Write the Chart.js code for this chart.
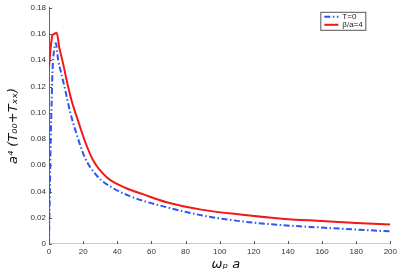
<!DOCTYPE html>
<html>
<head>
<meta charset="utf-8">
<script src="https://cdn.jsdelivr.net/npm/chart.js@4"></script>
<style>
  body { margin: 0; background: #fff; }
  #wrap { width: 400px; height: 276px; }
</style>
</head>
<body>
<div id="wrap"><canvas id="plot"></canvas></div>
<script>
'use strict';

// data
let redX = [0, 1, 2, 3, 4.5, 6, 8, 11, 13.3, 17, 21, 26, 34, 45, 55, 69, 90, 112, 135, 160, 180, 200];
let redY = [0.134, 0.150, 0.159, 0.160, 0.161, 0.150, 0.139, 0.121, 0.109, 0.094, 0.0785, 0.0634, 0.0507, 0.0427, 0.038, 0.0318, 0.026, 0.0225, 0.0195, 0.0175, 0.016, 0.0149];

let blueX = [0, 0.5, 1, 1.5, 2, 3, 4, 5.4, 7, 9.4, 12.3, 16.2, 21, 28, 37.6, 47.4, 55, 69, 90, 112, 135, 160, 180, 200];
let blueY = [0, 0.04, 0.08, 0.105, 0.13, 0.148, 0.153, 0.140, 0.131, 0.118, 0.101, 0.0836, 0.0659, 0.052, 0.0425, 0.0365, 0.0330, 0.0280, 0.0217, 0.0174, 0.0145, 0.0125, 0.011, 0.0096];

let baseX = [0, 200];
let baseY = [0, 0];

let seriesNames = ['T=0', 'β/a=4'];

function toPoints(xs, ys) {
  let pts = [];
  for (let i = 0; i < xs.length; i++) {
    pts.push({ x: xs[i], y: ys[i] });
  }
  return pts;
}

// matlab style ticks pointing inward
let inwardTicks = {
  id: 'inwardTicks',
  afterDraw(chart) {
    let c = chart.ctx;
    let xs = chart.scales.x;
    let ys = chart.scales.y;
    c.save();
    c.strokeStyle = '#555';
    c.lineWidth = 1;
    c.beginPath();
    xs.ticks.forEach(t => {
      let px = Math.round(xs.getPixelForValue(t.value)) + 0.5;
      c.moveTo(px, ys.bottom);
      c.lineTo(px, ys.bottom - 3);
    });
    ys.ticks.forEach(t => {
      let py = Math.round(ys.getPixelForValue(t.value)) + 0.5;
      c.moveTo(xs.left, py);
      c.lineTo(xs.left + 3, py);
    });
    c.stroke();
    c.restore();
  }
};

// boxed legend in the top right corner, like matlab's
let boxLegend = {
  id: 'boxLegend',
  afterDraw(chart) {
    let c = chart.ctx;
    let x0 = chart.chartArea.right - 70;
    let y0 = chart.chartArea.top + 4;
    c.save();
    c.fillStyle = '#fff';
    c.fillRect(x0, y0, 45, 18);
    c.strokeStyle = '#555';
    c.lineWidth = 1;
    c.strokeRect(x0 + 0.5, y0 + 0.5, 45, 18);
    c.font = '8px "Liberation Sans"';
    c.textBaseline = 'middle';
    for (let i = 0; i < 2; i++) {
      let ds = chart.data.datasets[i];
      let ly = y0 + 5 + i * 8;
      c.strokeStyle = ds.borderColor;
      c.lineWidth = 2;
      c.setLineDash(ds.borderDash || []);
      c.beginPath();
      c.moveTo(x0 + 4, ly);
      c.lineTo(x0 + 18, ly);
      c.stroke();
      c.setLineDash([]);
      c.fillStyle = '#222';
      c.fillText(seriesNames[i], x0 + 22, ly);
    }
    c.restore();
  }
};

let ctx = document.getElementById('plot');

new Chart(ctx, {
  type: 'line',
  data: {
    datasets: [
      {
        label: seriesNames[0],
        data: toPoints(blueX, blueY),
        borderColor: '#2f55f0',
        borderWidth: 2,
        borderDash: [6, 2.5, 1.5, 2.5],
        pointRadius: 0,
        cubicInterpolationMode: 'monotone'
      },
      {
        label: seriesNames[1],
        data: toPoints(redX, redY),
        borderColor: '#f01818',
        borderWidth: 2,
        pointRadius: 0,
        cubicInterpolationMode: 'monotone'
      },
      {
        label: 'base',
        data: toPoints(baseX, baseY),
        borderColor: '#b5dca8',
        borderWidth: 2,
        pointRadius: 0
      }
    ]
  },
  options: {
    responsive: true,
    maintainAspectRatio: false,
    animation: false,
    layout: { padding: { top: 6, right: 9, left: 2, bottom: 0 } },
    plugins: {
      legend: { display: false },
      tooltip: { enabled: false }
    },
    scales: {
      x: {
        type: 'linear',
        min: 0,
        max: 200,
        afterFit: s => { s.height = 32; },
        ticks: {
          stepSize: 20,
          font: { family: 'Liberation Sans', size: 8 },
          color: '#333',
          padding: 3
        },
        grid: { drawOnChartArea: false, drawTicks: false },
        border: { display: false },
        title: {
          display: true,
          text: '   ωₚ a',
          font: { family: 'DejaVu Sans', size: 13, style: 'italic' },
          color: '#111',
          padding: { top: 2 }
        }
      },
      y: {
        min: 0,
        max: 0.18,
        afterFit: s => { s.width = 47; },
        ticks: {
          stepSize: 0.02,
          font: { family: 'Liberation Sans', size: 8 },
          color: '#333',
          padding: 3
        },
        grid: { drawOnChartArea: false, drawTicks: false },
        border: { display: true, color: '#666', width: 1 },
        title: {
          display: true,
          text: 'a⁴ (T₀₀+Tₓₓ)',
          font: { family: 'DejaVu Sans', size: 13, style: 'italic' },
          color: '#111',
          padding: { top: 4, bottom: 0 }
        }
      }
    }
  },
  plugins: [inwardTicks, boxLegend]
});
</script>
</body>
</html>
